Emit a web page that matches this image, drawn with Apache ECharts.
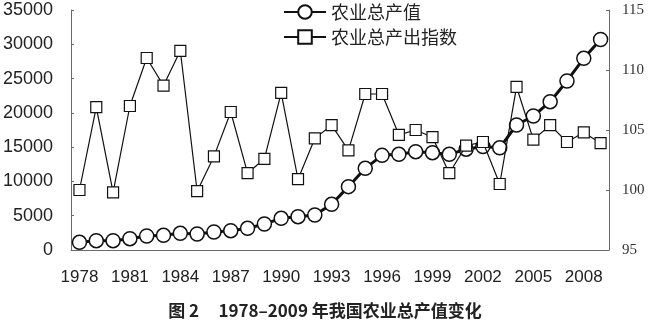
<!DOCTYPE html>
<html>
<head>
<meta charset="utf-8">
<script src="https://cdn.jsdelivr.net/npm/echarts@6/dist/echarts.min.js"></script>
<style>
  html, body { margin: 0; padding: 0; background: #fff; }
  #chart { width: 650px; height: 326px; }
</style>
</head>
<body>
<div id="chart"></div>
<script>
// Years 1978–2009
const years = [];
for (let y = 1978; y <= 2009; y++) years.push(String(y));

// 农业总产值 (亿元), left axis
const grossOutput = [1120, 1360, 1360, 1650, 2040, 2140, 2430, 2330, 2620, 2820,
  3160, 3790, 4620, 4860, 5100, 6660, 9240, 11910, 13800, 13950,
  14340, 14190, 13950, 14700, 15100, 14900, 18230, 19540, 21630, 24650,
  27950, 30700];

// 农业总产出指数, right axis
const outputIndex = [100.0, 106.9, 99.8, 107.0, 111.0, 108.7, 111.6, 99.9, 102.8, 106.5,
  101.4, 102.6, 108.1, 100.9, 104.3, 105.4, 103.3, 108.0, 108.0, 104.6,
  105.0, 104.4, 101.4, 103.7, 104.0, 100.5, 108.6, 104.2, 105.4, 104.0,
  104.8, 103.9];

const leftAxis = { min: 0, max: 35000, interval: 5000 };
const rightAxis = { min: 95, max: 115, interval: 5 };

const caption = '图 2\u00a0\u00a0\u00a0\u00a0\u00a01978–2009 年我国农业总产值变化';
const seriesNames = ['农业总产值', '农业总产出指数'];

const axisGray = '#6a6a6a';
const cjk = '"Noto Sans CJK SC", sans-serif';
const latin = '"Liberation Sans", Arial, sans-serif';

const chart = echarts.init(document.getElementById('chart'));
chart.setOption({
  animation: false,
  backgroundColor: '#fff',
  title: {
    text: caption,
    left: 'center',
    top: 302,
    padding: 0,
    textStyle: { fontFamily: cjk, fontSize: 17, fontWeight: 'bold', color: '#222' }
  },
  legend: {
    orient: 'vertical',
    left: 283,
    top: 3,
    padding: 0,
    itemWidth: 42,
    itemHeight: 17,
    itemGap: 7,
    data: seriesNames,
    textStyle: { fontFamily: cjk, fontSize: 18, color: '#222' }
  },
  grid: { left: 71, right: 41, top: 10, bottom: 76 },
  xAxis: {
    type: 'category',
    data: years,
    boundaryGap: true,
    axisLine: { lineStyle: { color: axisGray, width: 1 } },
    axisTick: { inside: true, length: 4, interval: 0, lineStyle: { color: axisGray } },
    axisLabel: {
      interval: 2, margin: 19,
      fontFamily: latin, fontSize: 17, color: '#222'
    }
  },
  yAxis: [
    {
      type: 'value',
      min: leftAxis.min, max: leftAxis.max, interval: leftAxis.interval,
      splitLine: { show: false },
      axisLine: { show: true, lineStyle: { color: axisGray, width: 1 } },
      axisTick: { show: true, inside: true, length: 3, lineStyle: { color: axisGray } },
      axisLabel: {
        margin: 18,
        formatter: (v) => String(v),
        fontFamily: latin, fontSize: 18, color: '#222'
      }
    },
    {
      type: 'value',
      position: 'right',
      min: rightAxis.min, max: rightAxis.max, interval: rightAxis.interval,
      splitLine: { show: false },
      axisLine: { show: true, lineStyle: { color: axisGray, width: 1 } },
      axisTick: { show: true, inside: true, length: 3, lineStyle: { color: axisGray } },
      axisLabel: {
        margin: 13,
        fontFamily: '"Liberation Serif", "Times New Roman", serif', fontSize: 15, color: '#333'
      }
    }
  ],
  series: [
    {
      name: seriesNames[0],
      type: 'line',
      yAxisIndex: 0,
      data: grossOutput,
      symbol: 'circle',
      symbolSize: 14,
      showAllSymbol: true,
      lineStyle: { color: '#111', width: 3 },
      itemStyle: { color: '#fff', borderColor: '#111', borderWidth: 1.5 },
      z: 2
    },
    {
      name: seriesNames[1],
      type: 'line',
      yAxisIndex: 1,
      data: outputIndex,
      symbol: 'rect',
      symbolSize: 11,
      showAllSymbol: true,
      lineStyle: { color: '#111', width: 1.2 },
      itemStyle: { color: '#fff', borderColor: '#111', borderWidth: 1.2 },
      z: 3
    }
  ]
});
</script>
</body>
</html>
